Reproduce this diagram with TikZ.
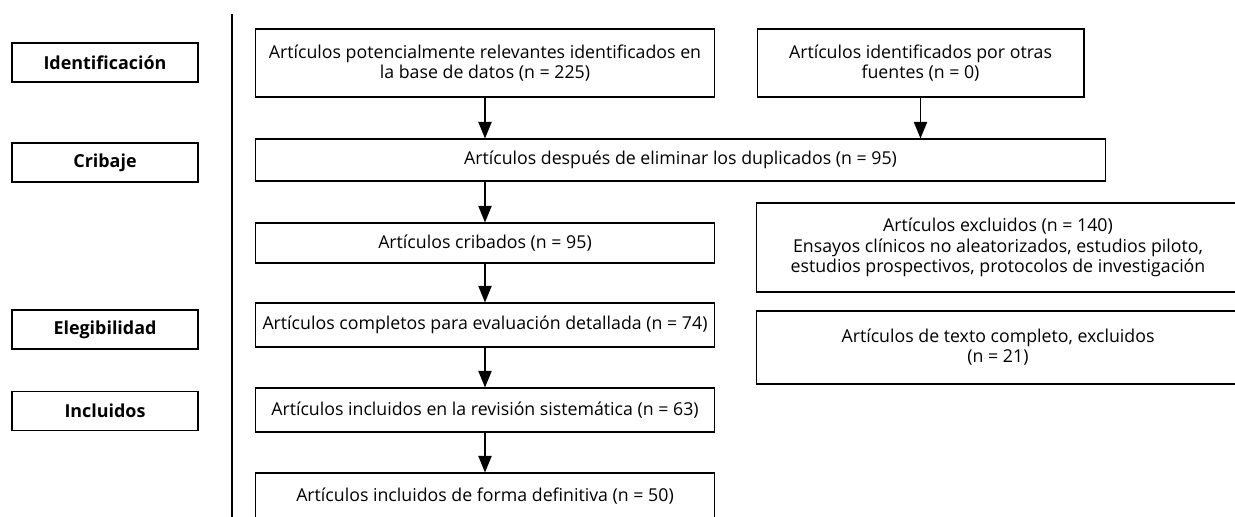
\documentclass[tikz,border=0pt]{standalone}
\usepackage{fontspec}
\setmainfont{Open Sans}
\usepackage{tikz}
\usetikzlibrary{arrows.meta, positioning}
\tikzset{%
	stage/.style={
		rectangle,
		draw,
		line width=0.6pt,
		font=\fontsize{10.2}{11.5}\selectfont\bfseries,
		minimum width=3.72cm,
		minimum height=0.78cm
	},
	flowbox/.style={
		rectangle,
		draw,
		line width=0.6pt,
		align=center,
		inner sep=0pt,
		font=\fontsize{10.1}{11.5}\selectfont,
		minimum width=9.2cm
	},
	sidebox/.style={
		flowbox,
		minimum width=9.68cm
	},
	flow/.style={
		->,
		line width=1.1pt
	},
}

\begin{document}
\begin{tikzpicture}[x=0.02cm, y=-0.02cm, >={Triangle[length=9.5pt, width=7.5pt]}]
			
			\useasboundingbox (0,0) rectangle (1235,517);
			
			\foreach \m/\l/\y in {idf/Identificación/62.5, crib/Cribaje/162.5, eleg/Elegibilidad/329.5, incl/Incluidos/411}
			\node [stage] (stage-\m) at (105,\y) {\l};
			
			\coordinate (sep-top) at (232,14);
			\coordinate (sep-bot) at (232,525);
			\draw [line width=1.5pt] (sep-top) -- (sep-bot);
			
			\node [flowbox, minimum height=1.36cm] (art-db) at (485,63)
			{Artículos potencialmente relevantes identificados en\\la base de datos (n = 225)};
			\node [flowbox, minimum width=6.54cm, minimum height=1.36cm] (art-other) at (920.5,63)
			{Artículos identificados por otras\\fuentes (n = 0)};
			\node [flowbox, minimum width=17.02cm, minimum height=0.84cm] (art-dup) at (680.5,160)
			{Artículos después de eliminar los duplicados (n = 95)};
			\node [flowbox, minimum height=0.8cm] (art-scr) at (485,243)
			{Artículos cribados (n = 95)};
			\node [sidebox, minimum height=1.78cm] (art-excl) at (998,247.5)
			{Artículos excluidos (n = 140)\\Ensayos clínicos no aleatorizados, estudios piloto,\\estudios prospectivos, protocolos de investigación};
			\node [flowbox, minimum height=0.88cm] (art-full) at (485,325)
			{Artículos completos para evaluación detallada (n = 74)};
			\node [sidebox, minimum height=1.46cm] (art-text) at (998,347.5)
			{Artículos de texto completo, excluidos\\(n = 21)};
			\node [flowbox, minimum height=0.88cm] (art-rev) at (485,410)
			{Artículos incluidos en la revisión sistemática (n = 63)};
			\node [flowbox, minimum height=0.92cm] (art-final) at (485,496)
			{Artículos incluidos de forma definitiva (n = 50)};
			
			\draw [flow] (art-db) -- (art-db |- art-dup.north);
			\draw [flow] (art-other) -- (art-other |- art-dup.north);
			\draw [flow] (art-dup.south -| art-scr) -- (art-scr);
			
			\foreach \a/\b in {scr/full, full/rev, rev/final}
			\draw [flow] (art-\a) -- (art-\b);
			
		\end{tikzpicture}
\end{document}
